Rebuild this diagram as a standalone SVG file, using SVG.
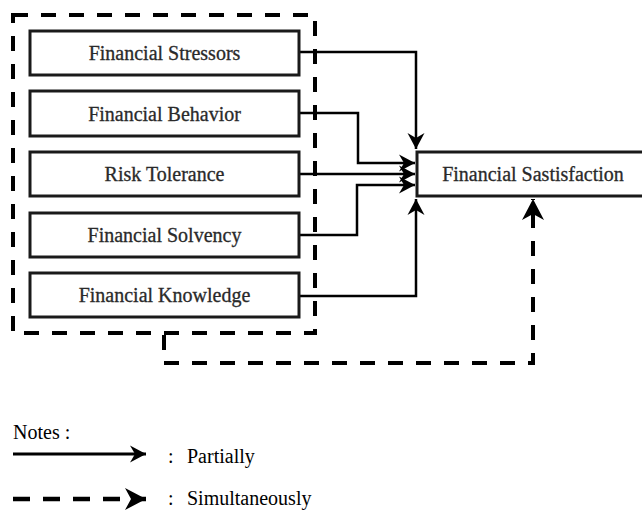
<svg xmlns="http://www.w3.org/2000/svg" width="642" height="510" viewBox="0 0 642 510">
<style>
.box{fill:#fff;stroke:#1a1a1a;stroke-width:3}
.lbl{font-family:"Liberation Serif","Times New Roman",serif;font-size:20px;fill:#2a2a2a;stroke:#2a2a2a;stroke-width:0.3;text-anchor:middle}
.leg{font-family:"Liberation Serif","Times New Roman",serif;font-size:20px;fill:#000}
.conn{fill:none;stroke:#000;stroke-width:2.5}
.dash{fill:none;stroke:#000;stroke-width:4;stroke-dasharray:15 13}
</style>
<defs>
<marker id="arr" markerUnits="userSpaceOnUse" markerWidth="40" markerHeight="40" refX="0" refY="0" viewBox="-20 -20 40 40" orient="auto" overflow="visible">
<path d="M0,0 L-16,-8.5 L-11,0 L-16,8.5 Z" fill="#000"/>
</marker>
<marker id="arrBig" markerUnits="userSpaceOnUse" markerWidth="50" markerHeight="50" refX="0" refY="0" viewBox="-25 -25 50 50" orient="auto" overflow="visible">
<path d="M0,0 L-21,-11 L-15,0 L-21,11 Z" fill="#000"/>
</marker>
</defs>
<g id="group-box">
<path class="dash" d="M13,15 H315 V333 H13 Z"/>
</g>
<g id="connectors">
<path class="conn" d="M299,52 H416 V149" marker-end="url(#arr)"/>
<path class="conn" d="M299,113 H358 V163 H415" marker-end="url(#arr)"/>
<path class="conn" d="M299,174 H415" marker-end="url(#arr)"/>
<path class="conn" d="M299,235 H357 V185 H415" marker-end="url(#arr)"/>
<path class="conn" d="M299,296 H416 V199" marker-end="url(#arr)"/>
<path class="dash" d="M164,335 V363 H533 V199" stroke-dasharray="14 13" marker-end="url(#arrBig)"/>
</g>
<g id="node-stressors">
<rect class="box" x="30" y="31" width="269" height="44"/>
<text class="lbl" x="164.5" y="60">Financial Stressors</text>
</g>
<g id="node-behavior">
<rect class="box" x="30" y="91" width="269" height="45"/>
<text class="lbl" x="164.5" y="120.5">Financial Behavior</text>
</g>
<g id="node-risk">
<rect class="box" x="30" y="152" width="269" height="44"/>
<text class="lbl" x="164.5" y="181">Risk Tolerance</text>
</g>
<g id="node-solvency">
<rect class="box" x="30" y="213" width="269" height="44"/>
<text class="lbl" x="164.5" y="242">Financial Solvency</text>
</g>
<g id="node-knowledge">
<rect class="box" x="30" y="273" width="269" height="44"/>
<text class="lbl" x="164.5" y="302">Financial Knowledge</text>
</g>
<g id="node-satisfaction">
<rect x="417" y="152" width="240" height="44" fill="#fff"/>
<path d="M645,152 H417 V196 H645" fill="none" stroke="#1a1a1a" stroke-width="3"/>
<text class="lbl" x="533" y="181">Financial Sastisfaction</text>
</g>
<g id="legend">
<text class="leg" x="13" y="439">Notes :</text>
<path d="M13,454 H146" fill="none" stroke="#000" stroke-width="3" marker-end="url(#arr)"/>
<text class="leg" x="168" y="463">:</text>
<text class="leg" x="187" y="463">Partially</text>
<path d="M13,499 H146" fill="none" stroke="#000" stroke-width="4.5" stroke-dasharray="17 13" marker-end="url(#arrBig)"/>
<text class="leg" x="168" y="505">:</text>
<text class="leg" x="187" y="505">Simultaneously</text>
</g>
</svg>
